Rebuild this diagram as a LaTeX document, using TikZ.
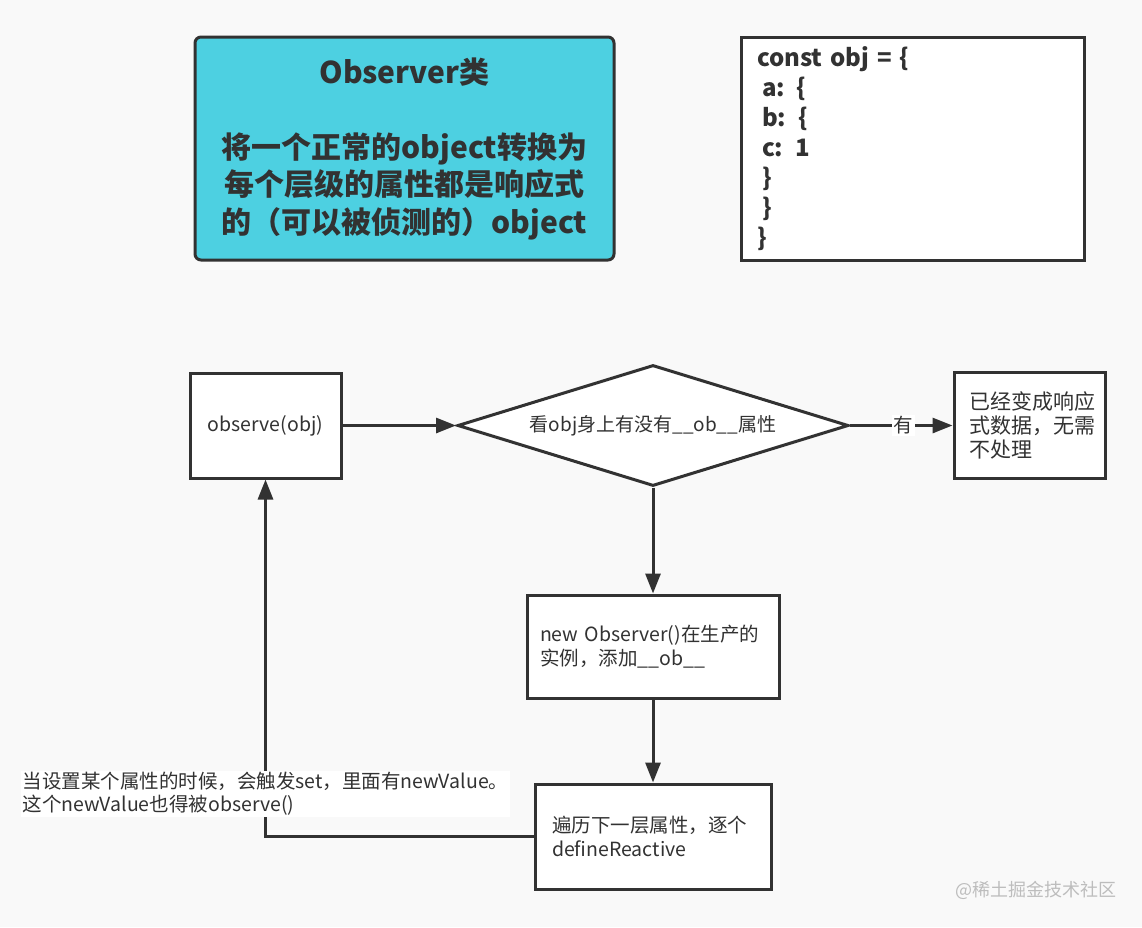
\documentclass[tikz,border=0pt]{standalone}
\usepackage{fontspec}
\setmainfont{Noto Sans CJK SC}
\usetikzlibrary{arrows.meta, shapes.geometric}
\definecolor{cline}{HTML}{323232}
\definecolor{ccyan}{HTML}{4DD0E1}
\definecolor{cpaper}{HTML}{F9F9F9}
\definecolor{cmark}{HTML}{BDBDBD}
\tikzset{
  every picture/.style={line width=3pt, x=1pt, y=-1pt},
  box/.style={draw=cline, fill=white, inner sep=0pt, text=cline, font=\fontsize{19.5pt}{24pt}\selectfont},
  leftbox/.style={box, align=left, inner xsep=#1},
  arrow/.style={-{Triangle[length=20pt, width=15pt]}, draw=cline, line width=3pt},
  tag/.style={fill=white, inner sep=1.5pt, text=cline, font=\fontsize{19.5pt}{23pt}\selectfont},
}

\begin{document}
\begin{tikzpicture}
  \fill[cpaper] (0,0) rectangle (1142,927);
  \useasboundingbox (0,0) rectangle (1142,927);
  % top row
  \node[box, fill=ccyan, rounded corners=6pt, minimum width=419pt, minimum height=223pt, align=center,
        font=\fontsize{30pt}{37.5pt}\selectfont\bfseries] (cls) at (404.5,148.5)
        {Observer类\\[37.5pt]将一个正常的object转换为\\每个层级的属性都是响应式\\的（可以被侦测的）object};
  \node[leftbox=16pt, minimum height=223pt, text width=311pt,
        font=\fontsize{24pt}{30pt}\selectfont\bfseries] (code) at (912.5,148.5)
        {const obj = \{\\\hspace*{5pt}a: \{\\\hspace*{5pt}b: \{\\\hspace*{5pt}c: 1\\\hspace*{5pt}\}\\\hspace*{5pt}\}\\\}};
  % flow
  \node[box, minimum width=151pt, minimum height=105pt] (obs) at (265.5,425.5) {observe(obj)};
  \node[box, diamond, aspect=3.23, minimum width=391pt, minimum height=121pt, font=\fontsize{19pt}{24pt}\selectfont] (has) at (653,425.5)
        {看obj身上有没有\_\_ob\_\_属性};
  \node[leftbox=15pt, minimum height=106pt, text width=121pt, font=\fontsize{21pt}{24pt}\selectfont] (done) at (1029.5,425.5)
        {已经变成响应\\式数据，无需\\不处理};
  \node[leftbox=13pt, minimum height=103pt, text width=226pt] (inst) at (653,646.5)
        {new Observer()在生产的\\实例，添加\_\_ob\_\_};
  \node[leftbox=17pt, minimum height=105pt, text width=202pt] (walk) at (653,836.5)
        {遍历下一层属性，逐个\\defineReactive};
  \draw[arrow] (obs) -- (has);
  \draw[arrow] (has) -- (done) node[tag, pos=0.52] (yes) {有};
  \draw[arrow] (has) -- (inst);
  \draw[arrow] (inst) -- (walk);
  \draw[arrow] (walk.west) -| (obs.south)
        node[tag, pos=0.56, align=left, inner xsep=2pt] (hint)
        {当设置某个属性的时候，会触发set，里面有newValue。\\这个newValue也得被observe()};
  \node[text=cmark, font=\fontsize{18pt}{20pt}\selectfont] (mark) at (1036,890) {@稀土掘金技术社区};
\end{tikzpicture}
\end{document}
